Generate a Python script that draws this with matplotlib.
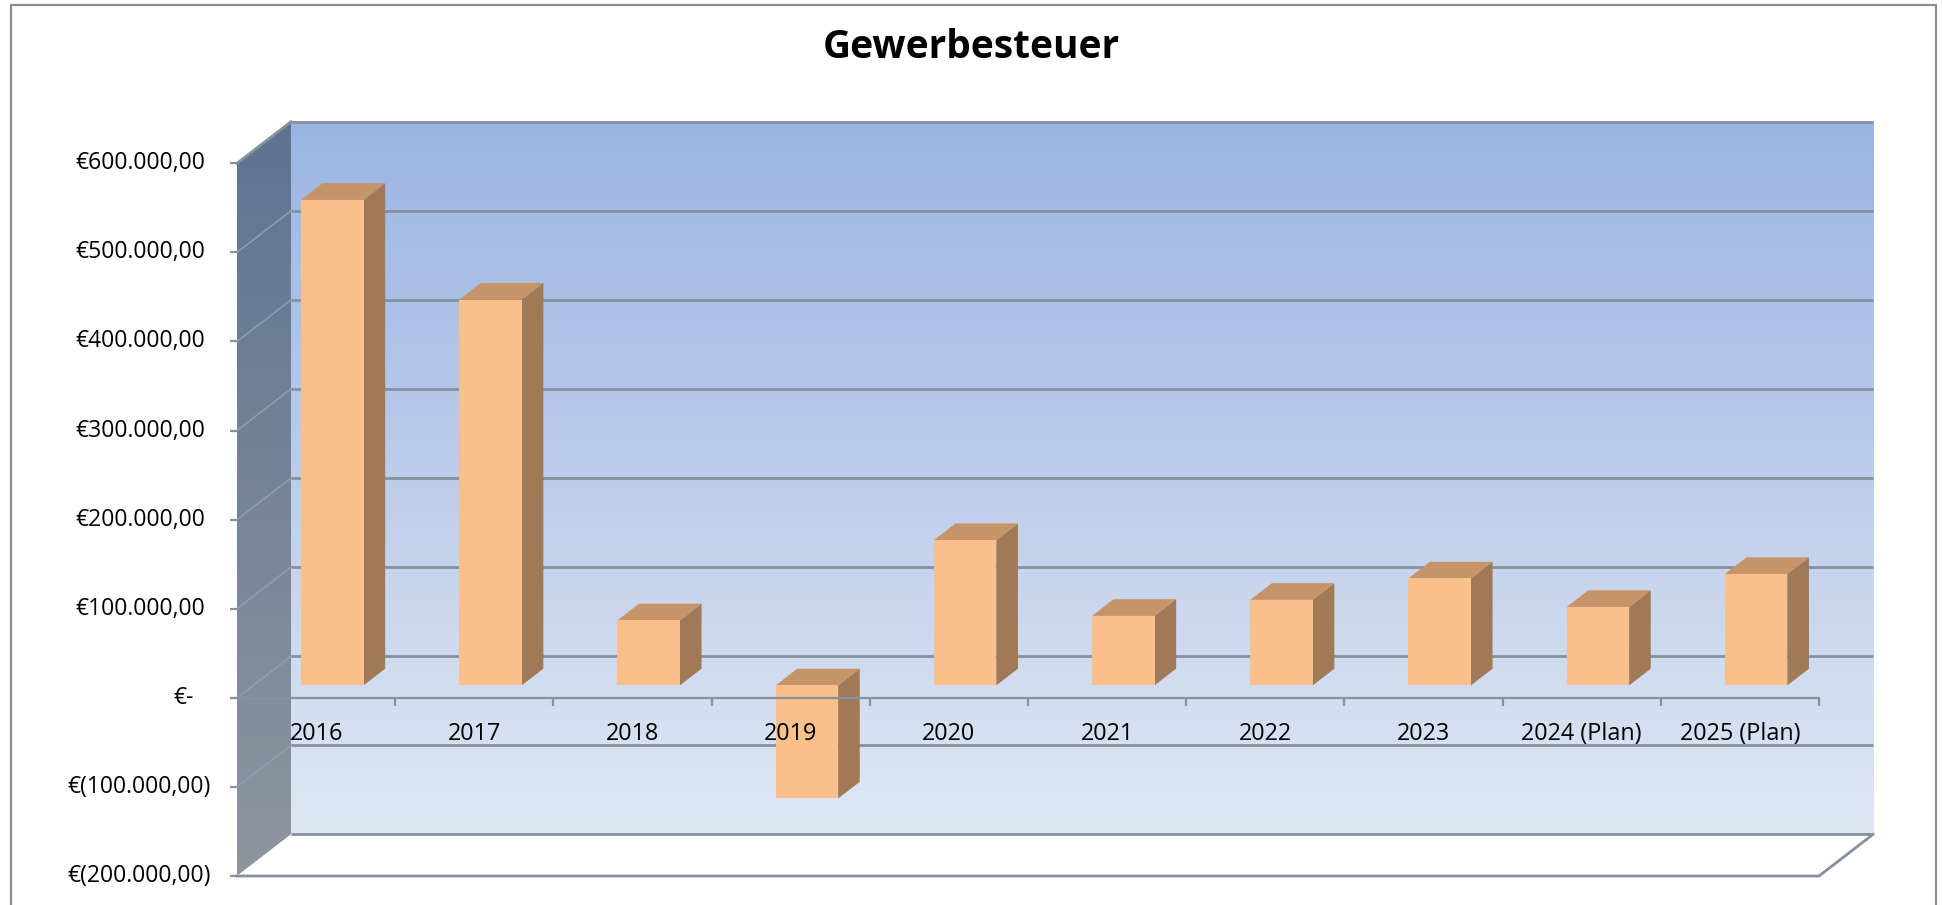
# Gewerbesteuer - 3D-Säulendiagramm im Excel-Stil
import numpy as np
import matplotlib.pyplot as plt
import matplotlib.colors as mcolors
from matplotlib.patches import Polygon
from matplotlib.lines import Line2D

plt.rcParams['font.family'] = ['Open Sans', 'DejaVu Sans']

# Daten
titel = 'Gewerbesteuer'
jahre = ['2016', '2017', '2018', '2019', '2020', '2021', '2022', '2023',
         '2024 (Plan)', '2025 (Plan)']
werte = [545000, 433000, 73000, -127000, 163000, 78000, 96000, 120000,
         88000, 125000]
y_werte = [600000, 500000, 400000, 300000, 200000, 100000, 0,
           -100000, -200000]
y_texte = ['€600.000,00', '€500.000,00', '€400.000,00', '€300.000,00',
           '€200.000,00', '€100.000,00', '€-', '€(100.000,00)',
           '€(200.000,00)']

W, H = 1942, 905
fig = plt.figure(figsize=(W / 100, H / 100), dpi=100)

# vordere Ebene der 3D-Box (Pixel)
x0, x1 = 237, 1819
ytop, ybot = 163.3, 876
ax = fig.add_axes([x0 / W, 1 - ybot / H, (x1 - x0) / W, (ybot - ytop) / H])
n = len(jahre)
ymin, ymax = -200000, 600000

# Tiefe der Box in Datenkoordinaten
DX = 54 / ((x1 - x0) / n)
DY = 41.6 / ((ybot - ytop) / (ymax - ymin))

grau = '#86919e'


def verlauf(oben, unten, k=256):
    a = np.array(mcolors.to_rgb(oben))
    b = np.array(mcolors.to_rgb(unten))
    t = np.linspace(0, 1, k)[:, None]
    return (a * (1 - t) + b * t)[:, None, :]


# Rückwand
ax.imshow(verlauf('#9ab4e2', '#e0e7f4'), extent=(DX, n + DX, ymin + DY, ymax + DY),
          aspect='auto', zorder=0, clip_on=False, interpolation='bilinear')
for v in y_werte:
    ax.plot([DX, n + DX], [v + DY, v + DY], color=grau, lw=2, zorder=1,
            clip_on=False, solid_capstyle='butt')

# Seitenwand
seite = Polygon([(0, ymax), (DX, ymax + DY), (DX, ymin + DY), (0, ymin)],
                closed=True, facecolor='none', edgecolor='none')
ax.add_patch(seite)
im = ax.imshow(verlauf('#5e7392', '#8f959f'), extent=(0, DX, ymin, ymax + DY),
               aspect='auto', zorder=0.5, interpolation='bilinear')
im.set_clip_path(seite)
im.set_clip_box(fig.bbox)
for v in y_werte[1:-1]:
    ax.plot([0, DX], [v, v + DY], color='#8d9cb2', lw=1.2, zorder=0.6, clip_on=False)
ax.plot([0, DX], [ymax, ymax + DY], color=grau, lw=2, zorder=0.7, clip_on=False)

# Boden
ax.add_patch(Polygon([(0, ymin), (n, ymin), (n + DX, ymin + DY), (DX, ymin + DY)],
                     closed=True, facecolor='white', edgecolor='none', zorder=0.8,
                     clip_on=False))
ax.plot([0, n, n + DX], [ymin, ymin, ymin + DY], color=grau, lw=2, zorder=0.9,
        clip_on=False)

# Säulen
bw = 0.395
f1, f2 = 0.3, 0.7


def p(x, y, f):
    return (x + f * DX, y + f * DY)


for i, v in enumerate(werte):
    cx = i + 0.5
    lo, hi = min(0, v), max(0, v)
    l, r = cx - bw / 2, cx + bw / 2
    vorne = [p(l, lo, f1), p(r, lo, f1), p(r, hi, f1), p(l, hi, f1)]
    oben = [p(l, hi, f1), p(r, hi, f1), p(r, hi, f2), p(l, hi, f2)]
    rechts = [p(r, lo, f1), p(r, lo, f2), p(r, hi, f2), p(r, hi, f1)]
    ax.add_patch(Polygon(rechts, closed=True, facecolor='#a07a56', edgecolor='none',
                         zorder=2, clip_on=False))
    ax.add_patch(Polygon(oben, closed=True, facecolor='#c69468', edgecolor='none',
                         zorder=2, clip_on=False))
    ax.add_patch(Polygon(vorne, closed=True, facecolor='#fac08c', edgecolor='none',
                         zorder=2, clip_on=False))

ax.set_xlim(0, n)
ax.set_ylim(ymin, ymax)
ax.set_axisbelow(False)
for s in ['top', 'right', 'left']:
    ax.spines[s].set_visible(False)
ax.spines['bottom'].set_position(('data', 0))
ax.spines['bottom'].set_color(grau)
ax.spines['bottom'].set_linewidth(1.6)
ax.spines['bottom'].set_zorder(3)

# Kategorieachse
ax.set_xticks(range(1, n + 1))
ax.set_xticklabels([])
ax.set_xticks([i + 0.5 for i in range(n)], minor=True)
ax.set_xticklabels(jahre, minor=True, fontsize=16.8)
ax.tick_params(axis='x', which='major', length=6, width=1.6, color=grau, direction='out')
ax.tick_params(axis='x', which='minor', length=0, pad=17.5)

# Werteachse
ax.set_yticks(y_werte)
ax.set_yticklabels([])
ax.tick_params(axis='y', length=5, width=1.6, color=grau, direction='out')
for v, t in zip(y_werte, y_texte):
    if v > 0:
        dx = -32
    elif v < 0:
        dx = -26
    else:
        dx = -43
    ax.annotate(t, xy=(0, v), xycoords='data', xytext=(dx, 0),
                textcoords='offset pixels', ha='right', va='center', fontsize=16.5)

# Titel und Rahmen
fig.text(971 / W, 1 - 47 / H, titel, ha='center', va='center', fontsize=28,
         fontweight='bold')
fig.add_artist(Line2D([11 / W, 11 / W, 1936 / W, 1936 / W], [0, 1 - 5 / H, 1 - 5 / H, 0],
                      transform=fig.transFigure, color='#8c8c8c', lw=1.6))

fig.savefig('out.png', dpi=100)
